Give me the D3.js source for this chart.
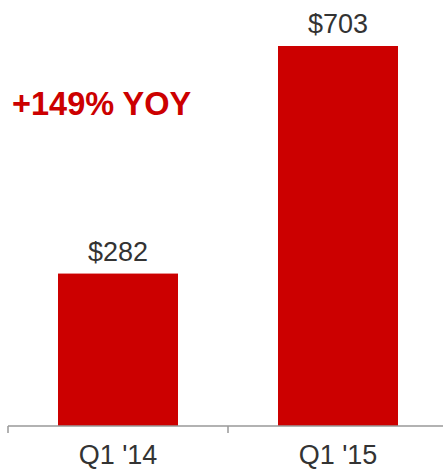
<!DOCTYPE html>
<html>
<head>
<meta charset="utf-8">
<script src="https://cdn.jsdelivr.net/npm/d3@7"></script>
<style>
  body { margin: 0; background: #fff; }
  svg { display: block; font-family: "Liberation Sans", Arial, sans-serif; }
</style>
</head>
<body>
<div class="chart"></div>
<script>
const categories = ["Q1 '14", "Q1 '15"];
const values = [282, 703];
const valueLabels = ["$282", "$703"];
const callout = "+149% YOY";

const width = 443, height = 473;
const margin = {top: 46, right: -5, bottom: 47, left: 8};
const red = "#cc0000";

const svg = d3.select(".chart")
  .append("svg")
    .attr("width", width)
    .attr("height", height);

const x = d3.scaleBand()
  .domain(categories)
  .range([margin.left, width - margin.right]);

const y = d3.scaleLinear()
  .domain([0, 703])
  .range([height - margin.bottom, margin.top]);

const barW = 120;

// bars
svg.append("g")
  .attr("fill", red)
  .selectAll("rect")
  .data(values)
  .join("rect")
    .attr("x", (d, i) => x(categories[i]) + (x.bandwidth() - barW) / 2)
    .attr("y", d => y(d))
    .attr("width", barW)
    .attr("height", d => y(0) - y(d));

// value labels
svg.append("g")
  .attr("fill", "#333")
  .attr("font-size", 27)
  .attr("text-anchor", "middle")
  .selectAll("text")
  .data(values)
  .join("text")
    .attr("x", (d, i) => x(categories[i]) + x.bandwidth() / 2)
    .attr("y", d => y(d) - 13)
    .text((d, i) => valueLabels[i]);

// axis: line with ticks at band edges
const axis = svg.append("g")
  .attr("transform", `translate(0, ${y(0)})`);
axis.append("line")
  .attr("x1", margin.left).attr("x2", width)
  .attr("stroke", "#999").attr("stroke-width", 1.5);
axis.selectAll(".tick")
  .data(categories)
  .join("line")
    .attr("class", "tick")
    .attr("x1", d => x(d)).attr("x2", d => x(d))
    .attr("y1", 0).attr("y2", 7)
    .attr("stroke", "#999").attr("stroke-width", 1.5);
axis.selectAll(".lbl")
  .data(categories)
  .join("text")
    .attr("class", "lbl")
    .attr("x", d => x(d) + x.bandwidth() / 2)
    .attr("y", 38)
    .attr("text-anchor", "middle")
    .attr("font-size", 27)
    .attr("fill", "#333")
    .text(d => d);

// callout
svg.append("text")
  .attr("x", 12)
  .attr("y", 115)
  .attr("fill", red)
  .attr("font-weight", "bold")
  .attr("font-size", 32.5)
  .text(callout);
</script>
</body>
</html>
